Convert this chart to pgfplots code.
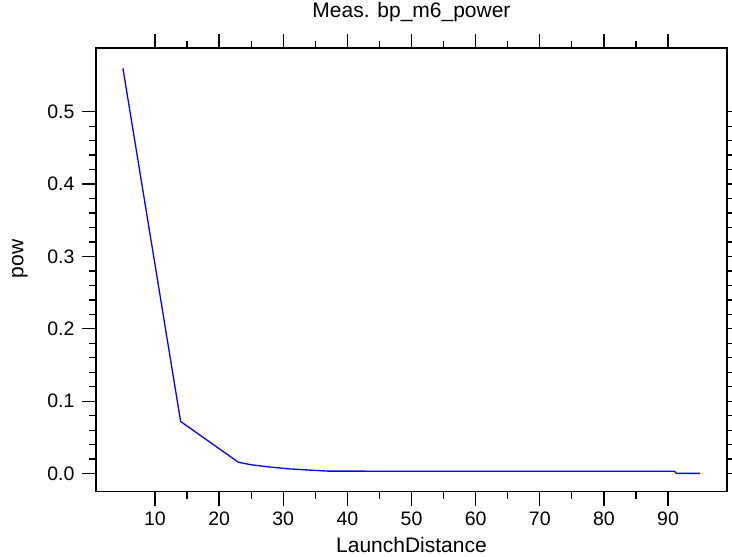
\documentclass[border=0pt]{standalone}
\usepackage{fontspec}
\setmainfont{Liberation Sans}
\usepackage{pgfplots}
\pgfplotsset{compat=1.18}

\begin{document}
\begin{tikzpicture}
\begin{axis}[
    scale only axis,
    width=631pt, height=443.7pt,
    xmin=0.8, xmax=99.2,
    ymin=-0.025, ymax=0.588,
    xtick={10,20,...,90},
    ytick={0,0.1,...,0.5},
    minor x tick num=1,
    minor y tick num=4,
    xtick align=outside, ytick align=outside,
    tick pos=both,
    major tick length=14pt,
    minor tick length=7pt,
    every tick/.append style={black, line width=1.3pt},
    axis line style={line width=1.3pt},
    xticklabel pos=bottom, yticklabel pos=left,
    /pgf/number format/assume math mode=true,
    yticklabel style={xshift=-4pt, /pgf/number format/fixed, /pgf/number format/fixed zerofill, /pgf/number format/precision=1},
    xticklabel style={yshift=-3pt},
    ticklabel style={font=\fontsize{19.5}{22}\selectfont},
    title={Meas. bp\_m6\_power},
    title style={at={(axis description cs:0.5,1)}, anchor=base, yshift=24.7pt, font=\fontsize{21}{25}\selectfont},
    xlabel={LaunchDistance},
    xlabel style={at={(axis description cs:0.5,0)}, anchor=base, yshift=-61pt, font=\fontsize{21}{25}\selectfont},
    ylabel={pow},
    ylabel style={at={(axis description cs:-0.1152,0.5245)}, anchor=base, font=\fontsize{21}{25}\selectfont},
]
\addplot[blue, line width=1.3pt] coordinates {
    (5,0.560) (14,0.072) (23,0.0157) (25,0.0122) (28,0.0090) (31,0.0065)
    (37,0.0034) (91,0.0033) (91.3,0.0003) (95,0.0003)
};
\end{axis}
\pgfresetboundingbox
\useasboundingbox ([shift={(-96pt,-65.3pt)}]current axis.south west) rectangle ([shift={(5pt,48pt)}]current axis.north east);
\end{tikzpicture}
\end{document}
